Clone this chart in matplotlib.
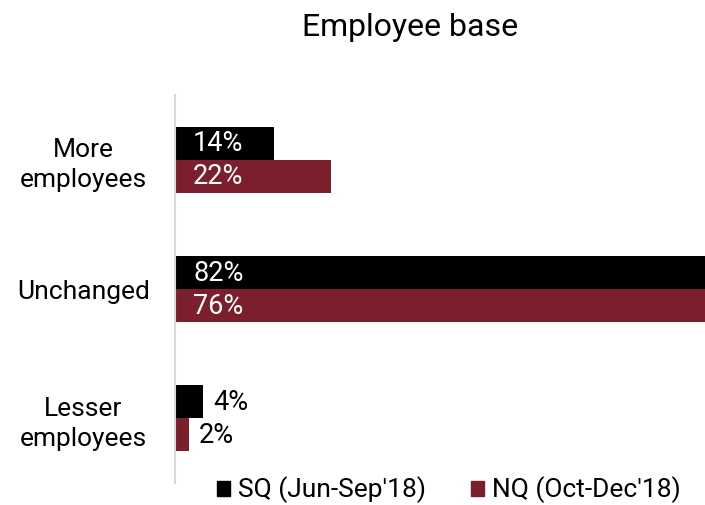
import matplotlib
matplotlib.use("Agg")
import matplotlib.pyplot as plt
from matplotlib.patches import Patch
import numpy as np

plt.rcParams['font.family'] = ['Roboto', 'DejaVu Sans']

categories = ["More\nemployees", "Unchanged", "Lesser\nemployees"]
sq_values = [14, 82, 4]
nq_values = [22, 76, 2]
series_names = ["SQ (Jun-Sep'18)", "NQ (Oct-Dec'18)"]
title = "Employee base"

sq_color = "#000000"
nq_color = "#7A1F2B"

fig = plt.figure(figsize=(7.05, 5.05), dpi=100)
ax = fig.add_axes([175/705, 1-483/505, 1-175/705, (483-95)/505])

y = np.arange(len(categories))
h = 0.256
ax.barh(y - h/2, sq_values, height=h, color=sq_color)
ax.barh(y + h/2, nq_values, height=h, color=nq_color)

ax.set_xlim(0, 74.6)
ax.set_ylim(2.5, -0.5)

for vals, off in ((sq_values, -h/2), (nq_values, h/2)):
    for i, v in enumerate(vals):
        if v >= 10:
            ax.annotate(f"{v}%", (0, i + off), xytext=(13, -0.5), textcoords='offset points',
                        ha='left', va='center', color='white', fontsize=19.5)
        else:
            ax.annotate(f"{v}%", (v, i + off), xytext=(7, -0.5), textcoords='offset points',
                        ha='left', va='center', color='black', fontsize=19.5)

ax.set_yticks(y)
ax.set_yticklabels(categories, ha='center', multialignment='center', fontsize=19,
                   linespacing=1.3)
ax.tick_params(axis='y', length=0, pad=66)
ax.set_xticks([])
for s in ('top', 'right', 'bottom'):
    ax.spines[s].set_visible(False)
ax.spines['left'].set_color('#D9D9D9')
ax.spines['left'].set_linewidth(1.5)

fig.text(410/705, 1-28/505, title, ha='center', va='center', fontsize=23)

handles = [Patch(color=sq_color), Patch(color=nq_color)]
fig.legend(handles, series_names, loc='center', bbox_to_anchor=(449/705, 1-490/505),
           ncol=2, frameon=False, fontsize=19, handlelength=0.5, handleheight=0.5,
           handletextpad=0.3, columnspacing=1.7, borderpad=0, borderaxespad=0)

fig.savefig("out.png", dpi=100)
